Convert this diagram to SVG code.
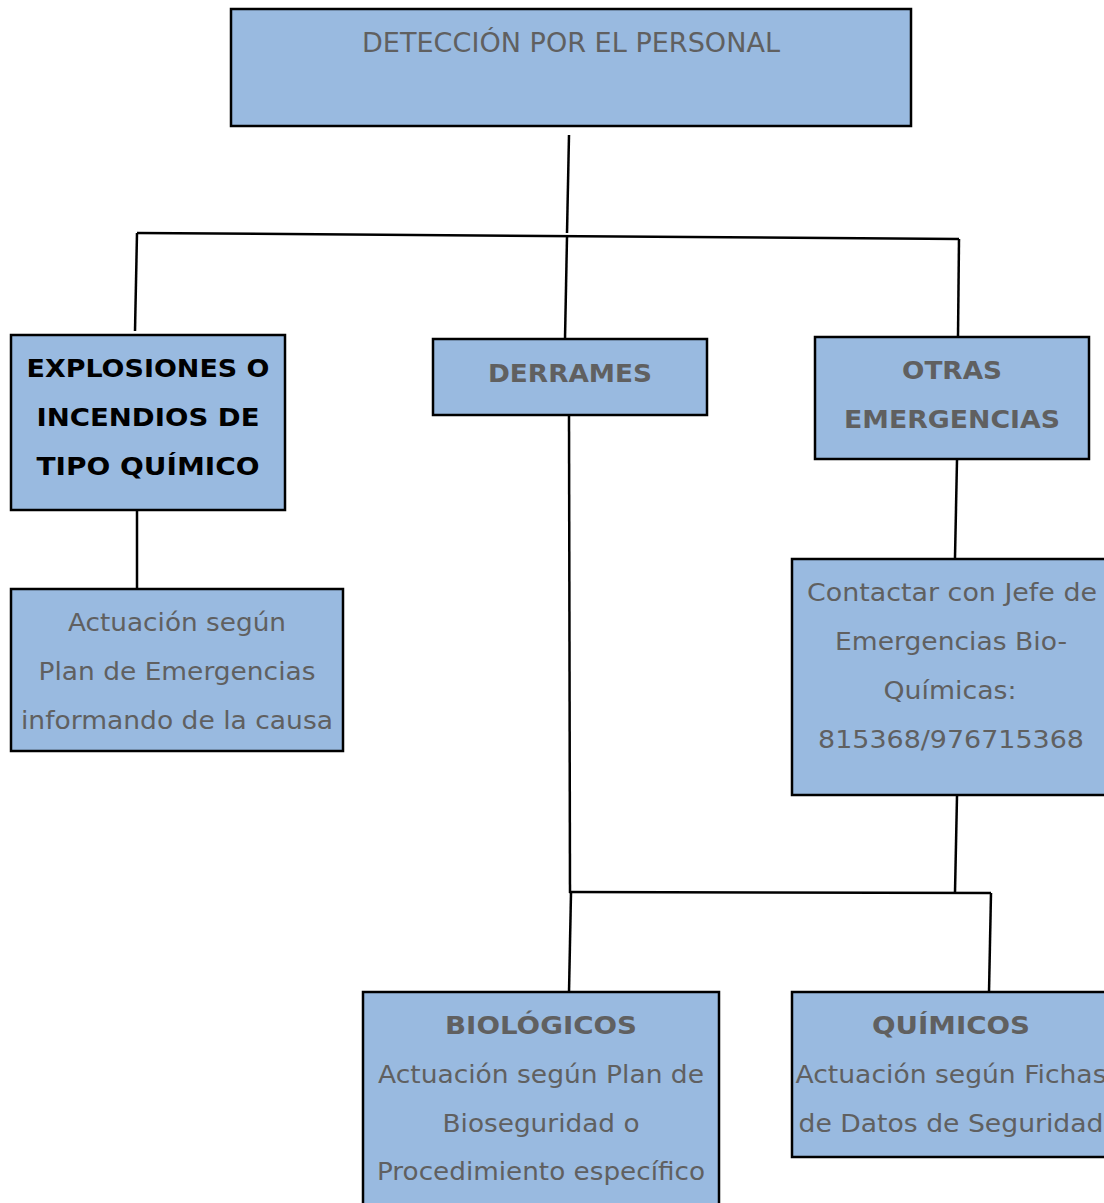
<svg xmlns="http://www.w3.org/2000/svg" width="1104" height="1203" viewBox="0 0 1104 1203">
<style>
.box{fill:#99BAE0;stroke:#000;stroke-width:2.5}
.t{font-family:"DejaVu Sans","Verdana",sans-serif;font-size:25px;fill:#606060;text-anchor:middle}
.b{font-weight:bold}
.k{fill:#000}
.c{stroke:#000;stroke-width:2.5;fill:none}
</style>
<rect width="1104" height="1203" fill="#fff"/>
<g id="connectors">
<line class="c" x1="569" y1="135" x2="567" y2="233"/>
<line class="c" x1="137" y1="233" x2="959" y2="239"/>
<line class="c" x1="137" y1="233" x2="135" y2="331"/>
<line class="c" x1="567" y1="237" x2="565" y2="339"/>
<line class="c" x1="959" y1="239" x2="958" y2="337"/>
<line class="c" x1="137" y1="511" x2="137" y2="594"/>
<line class="c" x1="569" y1="416" x2="570" y2="893"/>
<line class="c" x1="957" y1="460" x2="955" y2="558"/>
<line class="c" x1="957" y1="796" x2="955" y2="892"/>
<line class="c" x1="569" y1="892" x2="991" y2="893"/>
<line class="c" x1="571" y1="893" x2="569" y2="992"/>
<line class="c" x1="991" y1="893" x2="989" y2="992"/>
</g>
<g id="node-deteccion">
<rect class="box" x="231" y="9" width="680" height="117"/>
<text class="t" x="571" y="52" style="font-size:26px" textLength="418" lengthAdjust="spacingAndGlyphs">DETECCIÓN POR EL PERSONAL</text>
</g>
<g id="node-explosiones">
<rect class="box" x="11" y="335" width="274" height="175"/>
<text class="t b k" x="148" y="377" textLength="243" lengthAdjust="spacingAndGlyphs">EXPLOSIONES O</text>
<text class="t b k" x="148" y="426" textLength="223" lengthAdjust="spacingAndGlyphs">INCENDIOS DE</text>
<text class="t b k" x="148" y="475" textLength="223" lengthAdjust="spacingAndGlyphs">TIPO QUÍMICO</text>
</g>
<g id="node-actuacion-plan">
<rect class="box" x="11" y="589" width="332" height="162"/>
<text class="t" x="177" y="631" textLength="218" lengthAdjust="spacingAndGlyphs">Actuación según</text>
<text class="t" x="177" y="680" textLength="277" lengthAdjust="spacingAndGlyphs">Plan de Emergencias</text>
<text class="t" x="177" y="729" textLength="312" lengthAdjust="spacingAndGlyphs">informando de la causa</text>
</g>
<g id="node-derrames">
<rect class="box" x="433" y="339" width="274" height="76"/>
<text class="t b" x="570" y="382" textLength="164" lengthAdjust="spacingAndGlyphs">DERRAMES</text>
</g>
<g id="node-otras">
<rect class="box" x="815" y="337" width="274" height="122"/>
<text class="t b" x="952" y="379" textLength="100" lengthAdjust="spacingAndGlyphs">OTRAS</text>
<text class="t b" x="952" y="428" textLength="216" lengthAdjust="spacingAndGlyphs">EMERGENCIAS</text>
</g>
<g id="node-contactar">
<rect class="box" x="792" y="559" width="320" height="236"/>
<text class="t" x="952" y="601" textLength="290" lengthAdjust="spacingAndGlyphs">Contactar con Jefe de</text>
<text class="t" x="951" y="650" textLength="232" lengthAdjust="spacingAndGlyphs">Emergencias Bio-</text>
<text class="t" x="950" y="699" textLength="133" lengthAdjust="spacingAndGlyphs">Químicas:</text>
<text class="t" x="951" y="748" textLength="266" lengthAdjust="spacingAndGlyphs">815368/976715368</text>
</g>
<g id="node-biologicos">
<rect class="box" x="363" y="992" width="356" height="220"/>
<text class="t b" x="541" y="1034" textLength="192" lengthAdjust="spacingAndGlyphs">BIOLÓGICOS</text>
<text class="t" x="541" y="1083" textLength="326" lengthAdjust="spacingAndGlyphs">Actuación según Plan de</text>
<text class="t" x="541" y="1132" textLength="197" lengthAdjust="spacingAndGlyphs">Bioseguridad o</text>
<text class="t" x="541" y="1180" textLength="328" lengthAdjust="spacingAndGlyphs">Procedimiento específico</text>
</g>
<g id="node-quimicos">
<rect class="box" x="792" y="992" width="320" height="165"/>
<text class="t b" x="951" y="1034" textLength="158" lengthAdjust="spacingAndGlyphs">QUÍMICOS</text>
<text class="t" x="951" y="1083" textLength="311" lengthAdjust="spacingAndGlyphs">Actuación según Fichas</text>
<text class="t" x="951" y="1132" textLength="305" lengthAdjust="spacingAndGlyphs">de Datos de Seguridad</text>
</g>
</svg>
